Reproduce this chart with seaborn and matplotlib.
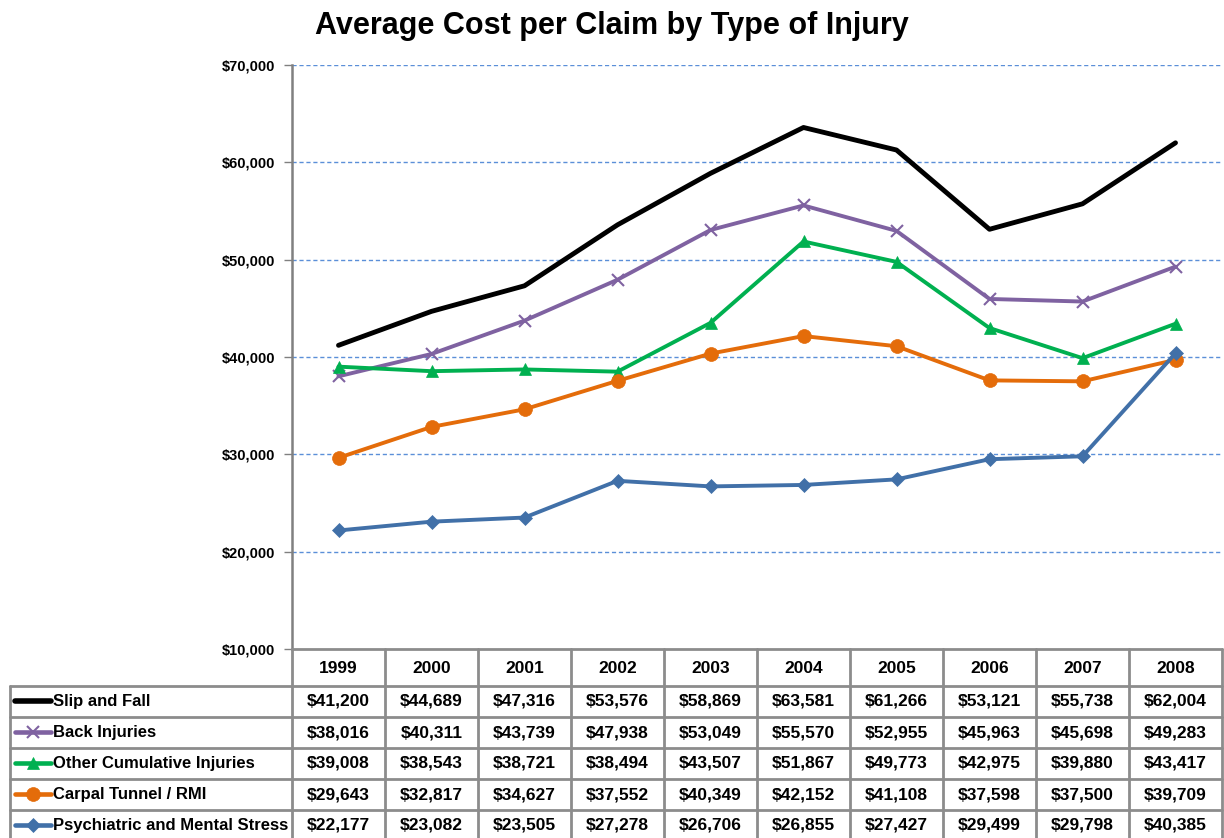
import numpy as np
import pandas as pd
import matplotlib.pyplot as plt
import seaborn as sns
from matplotlib.lines import Line2D

years = ['1999', '2000', '2001', '2002', '2003', '2004', '2005', '2006', '2007', '2008']
series_names = ['Slip and Fall', 'Back Injuries', 'Other Cumulative Injuries',
                'Carpal Tunnel / RMI', 'Psychiatric and Mental Stress']
slip_and_fall = [41200, 44689, 47316, 53576, 58869, 63581, 61266, 53121, 55738, 62004]
back_injuries = [38016, 40311, 43739, 47938, 53049, 55570, 52955, 45963, 45698, 49283]
other_cumulative = [39008, 38543, 38721, 38494, 43507, 51867, 49773, 42975, 39880, 43417]
carpal_tunnel = [29643, 32817, 34627, 37552, 40349, 42152, 41108, 37598, 37500, 39709]
psychiatric = [22177, 23082, 23505, 27278, 26706, 26855, 27427, 29499, 29798, 40385]
all_values = [slip_and_fall, back_injuries, other_cumulative, carpal_tunnel, psychiatric]

colors = ['#000000', '#7F62A1', '#00B050', '#E46C0A', '#4170A8']
markers = [None, 'x', '^', 'o', 'D']
msizes = [0, 9, 9, 10, 7]
lwidths = [3.5, 2.8, 2.8, 2.8, 2.8]

sns.set_style('white')
plt.rcParams['font.family'] = ['Liberation Sans Narrow', 'Liberation Sans', 'DejaVu Sans']
plt.rcParams['font.weight'] = 'bold'
plt.rcParams['text.color'] = 'black'
plt.rcParams['ytick.color'] = 'black'

W, H = 1224, 838
fig = plt.figure(figsize=(W / 100, H / 100), dpi=100)

# main plot area (pixel box converted to figure fractions)
px_left, px_right, px_top, px_bot = 292, 1222, 65, 649
ax = fig.add_axes([px_left / W, 1 - px_bot / H, (px_right - px_left) / W, (px_bot - px_top) / H])

df = pd.DataFrame({'x': np.tile(np.arange(len(years)), len(series_names)),
                   'value': np.concatenate(all_values),
                   'series': np.repeat(series_names, len(years))})

for name, c, m, ms, lw in zip(series_names, colors, markers, msizes, lwidths):
    sub = df[df['series'] == name]
    sns.lineplot(data=sub, x='x', y='value', color=c, marker=m, markersize=ms,
                 linewidth=lw, markeredgecolor=c, markeredgewidth=1.5 if m == 'x' else 0.5,
                 ax=ax, legend=False)

ax.set_xlim(-0.5, len(years) - 0.5)
ax.set_ylim(10000, 70000)
ax.set_yticks(np.arange(10000, 70001, 10000))
ax.set_yticklabels([f'${v:,.0f}' for v in np.arange(10000, 70001, 10000)], fontsize=10.5,
                   fontweight='bold', color='black')
ax.set_xticks([])
ax.set_xlabel('')
ax.set_ylabel('')
for v in np.arange(20000, 70001, 10000):
    ax.axhline(v, color='#5B8FD8', linestyle=(0, (3, 2)), linewidth=1, zorder=0)
for s in ['top', 'right', 'bottom']:
    ax.spines[s].set_visible(False)
ax.spines['left'].set_color('#808080')
ax.spines['left'].set_linewidth(1.8)
ax.tick_params(axis='y', length=6, color='#808080', width=1, pad=6, left=True)

fig.text(0.5, 1 - 26 / H, 'Average Cost per Claim by Type of Injury', ha='center', va='center',
         fontsize=22, fontweight='bold')

# data table below the plot
tb_left, tb_right, tb_top, tb_bot = 10, 1222, 649, 838
tax = fig.add_axes([tb_left / W, 1 - tb_bot / H, (tb_right - tb_left) / W, (tb_bot - tb_top) / H])
col_w = (px_right - px_left) / len(years)
x0 = -0.5 - (px_left - tb_left) / col_w
tax.set_xlim(x0, len(years) - 0.5)
tax.set_ylim(tb_bot, tb_top)
tax.axis('off')

grid_c = '#8C8C8C'
row_edges = [649, 686, 717, 748, 779, 810, 841]
# horizontal lines
tax.plot([-0.5, len(years) - 0.5], [row_edges[0]] * 2, color=grid_c, lw=2, clip_on=False)
for y in row_edges[1:]:
    tax.plot([x0, len(years) - 0.5], [y, y], color=grid_c, lw=2, clip_on=False)
# vertical lines
for i in range(len(years) + 1):
    tax.plot([i - 0.5, i - 0.5], [row_edges[0], row_edges[-1]], color=grid_c, lw=2, clip_on=False)
tax.plot([x0, x0], [row_edges[1], row_edges[-1]], color=grid_c, lw=2, clip_on=False)

for i, yr in enumerate(years):
    tax.text(i, (row_edges[0] + row_edges[1]) / 2 + 1, yr, ha='center', va='center',
             fontsize=12.5, fontweight='bold')
for r, (name, vals, c, m, ms, lw) in enumerate(zip(series_names, all_values, colors, markers, msizes, lwidths)):
    yc = (row_edges[r + 1] + row_edges[r + 2]) / 2
    for i, v in enumerate(vals):
        tax.text(i, yc, f'${v:,.0f}', ha='center', va='center', fontsize=12.5, fontweight='bold')
    # legend key
    kx = [x0 + 0.05, x0 + 0.44]
    tax.add_line(Line2D(kx, [yc, yc], color=c, lw=lw + 0.5, clip_on=False,
                        solid_capstyle='round'))
    if m is not None:
        tax.add_line(Line2D([np.mean(kx)], [yc], color=c, marker=m, markersize=ms,
                            markeredgecolor=c, markeredgewidth=1.5 if m == 'x' else 0.5,
                            clip_on=False))
    tax.text(x0 + 0.46, yc, name, ha='left', va='center', fontsize=12, fontweight='bold')

fig.savefig('out.png', dpi=100)
